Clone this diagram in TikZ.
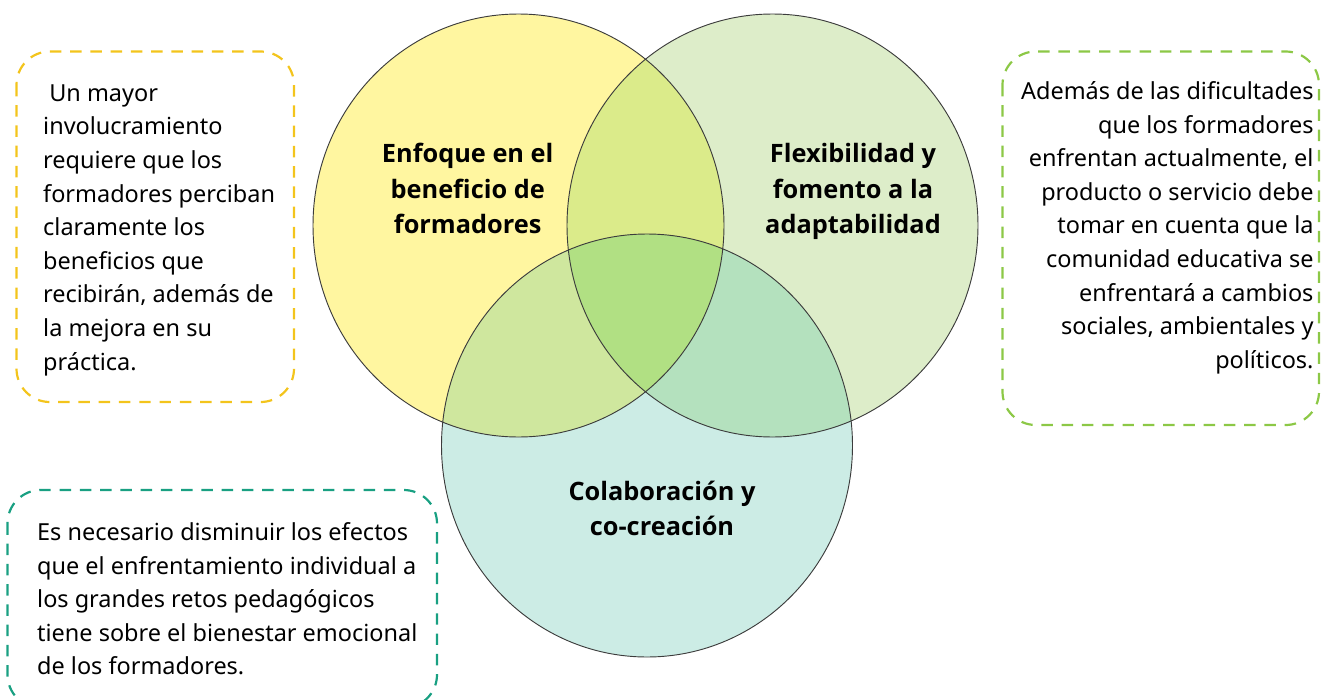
\documentclass[tikz,border=0pt]{standalone}
\usepackage{fontspec}
\setmainfont{Noto Sans}
\newfontfamily\lblfont{Open Sans}
\newcommand{\regtext}{\fontsize{17.6}{25.2}\selectfont}
\newcommand{\lbltext}{\lblfont\fontsize{19}{26.8}\selectfont\bfseries}
\tikzset{every picture/.style={line width=0.75pt}}
\tikzset{
  vennR/.style={x radius=205.5, y radius=211.5},
  boxline/.style={line width=1.65pt, dash pattern={on 8.6pt off 6.6pt}, rounded corners=25pt},
}

\begin{document}
\begin{tikzpicture}[x=0.75pt,y=0.75pt,yscale=-1,xscale=1]
\useasboundingbox (0,0) rectangle (1322,700);

%Shape: Ellipse [yellow]
\fill [color={rgb, 255:red, 255; green, 246; blue, 160 }] (518.5,225.5) ellipse [vennR];
%Shape: Ellipse [green]
\fill [color={rgb, 255:red, 221; green, 237; blue, 201 }] (772.5,225.5) ellipse [vennR];
%Shape: Ellipse [teal]
\fill [color={rgb, 255:red, 204; green, 236; blue, 229 }] (647,445.5) ellipse [vennR];
%Overlap yellow-green
\begin{scope}
\clip (518.5,225.5) ellipse [vennR];
\fill [color={rgb, 255:red, 219; green, 235; blue, 138 }] (772.5,225.5) ellipse [vennR];
\end{scope}
%Overlap yellow-teal
\begin{scope}
\clip (518.5,225.5) ellipse [vennR];
\fill [color={rgb, 255:red, 207; green, 231; blue, 158 }] (647,445.5) ellipse [vennR];
\end{scope}
%Overlap green-teal
\begin{scope}
\clip (772.5,225.5) ellipse [vennR];
\fill [color={rgb, 255:red, 180; green, 225; blue, 190 }] (647,445.5) ellipse [vennR];
\end{scope}
%Overlap all three
\begin{scope}
\clip (518.5,225.5) ellipse [vennR];
\clip (772.5,225.5) ellipse [vennR];
\fill [color={rgb, 255:red, 177; green, 224; blue, 131 }] (647,445.5) ellipse [vennR];
\end{scope}
%Outlines
\draw [color={rgb, 255:red, 60; green, 60; blue, 60 }, line width=0.7pt] (518.5,225.5) ellipse [vennR];
\draw [color={rgb, 255:red, 60; green, 60; blue, 60 }, line width=0.7pt] (772.5,225.5) ellipse [vennR];
\draw [color={rgb, 255:red, 60; green, 60; blue, 60 }, line width=0.7pt] (647,445.5) ellipse [vennR];

%Rounded Rect [yellow box]
\draw [color={rgb, 255:red, 243; green, 196; blue, 28 }, boxline] (16.5,51.5) rectangle (294,402);
%Rounded Rect [green box]
\draw [color={rgb, 255:red, 140; green, 200; blue, 70 }, boxline] (1002.5,51.5) rectangle (1319,425);
%Rounded Rect [teal box]
\draw [color={rgb, 255:red, 25; green, 160; blue, 130 }, boxline] (7.5,490) rectangle (437,708);

% Text Node
\draw (467.7,142.6) node [anchor=north][inner sep=0pt][align=center][font=\lbltext] (lblEnfoque) {Enfoque en el\\beneficio de\\formadores};
% Text Node
\draw (853,142.6) node [anchor=north][inner sep=0pt][align=center][font=\lbltext] (lblFlexible) {Flexibilidad y\\fomento a la\\adaptabilidad};
% Text Node
\draw (662,480.2) node [anchor=north][inner sep=0pt][align=center][font=\lbltext] (lblColabora) {Colaboración y\\co-creación};
% Text Node
\draw (42.7,84) node [anchor=north west][inner sep=0pt][align=left][font=\regtext] (txtInvolucra) {\ Un mayor\\involucramiento\\requiere que los\\formadores perciban\\claramente los\\beneficios que\\recibirán, además de\\la mejora en su\\práctica.};
% Text Node
\draw (1314,81) node [anchor=north east][inner sep=0pt][align=right][font=\regtext] (txtCambios) {Además de las dificultades\\que los formadores\\enfrentan actualmente, el\\producto o servicio debe\\tomar en cuenta que la\\comunidad educativa se\\enfrentará a cambios\\sociales, ambientales y\\políticos.};
% Text Node
\draw (36.7,522) node [anchor=north west][inner sep=0pt][align=left][font=\regtext] (txtBienestar) {Es necesario disminuir los efectos\\que el enfrentamiento individual a\\los grandes retos pedagógicos\\tiene sobre el bienestar emocional\\de los formadores.};

\end{tikzpicture}
\end{document}
